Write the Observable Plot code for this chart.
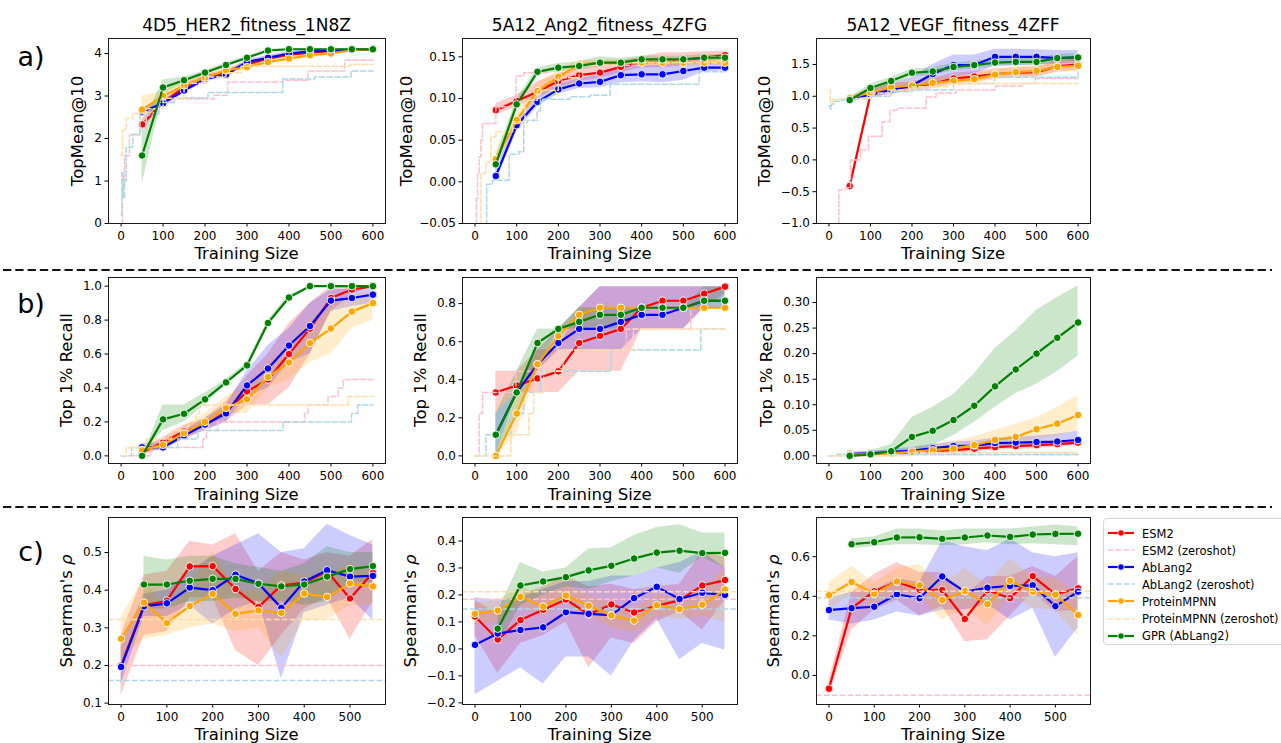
<!DOCTYPE html>
<html><head><meta charset="utf-8">
<script src="https://cdn.jsdelivr.net/npm/d3@7"></script>
<script src="https://cdn.jsdelivr.net/npm/@observablehq/plot@0.6"></script>
<style>
body{margin:0;background:#fff;font-family:"DejaVu Sans",sans-serif;color:#000;}
#root{position:relative;width:1281px;height:743px;overflow:hidden;background:#fff;}
.t{position:absolute;white-space:nowrap;transform:translate(-50%,-50%);line-height:1;}
.yl{position:absolute;white-space:nowrap;transform:translate(-50%,-50%) rotate(-90deg);line-height:1;font-size:16px;}
.leg{position:absolute;left:1103px;top:518px;width:190px;height:125px;border:1px solid #d6d6d6;border-radius:4px;background:#fff;}
.lr{position:absolute;left:0;height:16px;font-size:11.5px;white-space:nowrap;}
</style></head>
<body><div id="root"></div>
<script>
// ---------- data ----------
const MODELS = ["ESM2", "AbLang2", "ProteinMPNN", "GPR (AbLang2)"];
const ZS_LABELS = ["ESM2 (zeroshot)", "AbLang2 (zeroshot)", "ProteinMPNN (zeroshot)"];
const TITLES = ["4D5_HER2_fitness_1N8Z", "5A12_Ang2_fitness_4ZFG", "5A12_VEGF_fitness_4ZFF"];
const ROW_LABELS = ["a)", "b)", "c)"];
const Y_LABELS = ["TopMean@10", "Top 1% Recall", "Spearman's <i>ρ</i>"];
const X_LABEL = "Training Size";

const sizesAB = [50, 100, 150, 200, 250, 300, 350, 400, 450, 500, 550, 600];
const sizesC = [0, 50, 100, 150, 200, 250, 300, 350, 400, 450, 500, 550];
const xTicksAB = [0, 100, 200, 300, 400, 500, 600];
const xTicksC = [0, 100, 200, 300, 400, 500];

// a1: HER2 TopMean@10  (rows: ESM2, AbLang2, ProteinMPNN, GPR)
const A1_mean = [
 [2.33, 2.85, 3.2, 3.45, 3.55, 3.75, 3.88, 3.97, 4.02, 4.06, 4.08, 4.1],
 [2.63, 2.83, 3.13, 3.4, 3.5, 3.8, 3.9, 4.0, 4.05, 4.07, 4.08, 4.1],
 [2.68, 3.0, 3.25, 3.43, 3.6, 3.68, 3.8, 3.88, 3.96, 4.0, 4.08, 4.1],
 [1.6, 3.2, 3.37, 3.55, 3.73, 3.9, 4.07, 4.1, 4.1, 4.1, 4.1, 4.1]];
const A1_lo = [
 [2.2, 2.78, 3.12, 3.39, 3.49, 3.69, 3.83, 3.92, 3.98, 4.02, 4.05, 4.08],
 [2.55, 2.76, 3.06, 3.33, 3.45, 3.74, 3.85, 3.95, 4.01, 4.03, 4.05, 4.08],
 [2.42, 2.9, 3.17, 3.37, 3.53, 3.61, 3.74, 3.82, 3.91, 3.95, 4.04, 4.07],
 [0.92, 3.04, 3.3, 3.5, 3.68, 3.86, 4.04, 4.08, 4.08, 4.08, 4.08, 4.08]];
const A1_hi = [
 [2.46, 2.93, 3.28, 3.51, 3.61, 3.81, 3.93, 4.02, 4.06, 4.1, 4.11, 4.12],
 [2.7, 2.9, 3.2, 3.47, 3.56, 3.86, 3.95, 4.05, 4.09, 4.1, 4.11, 4.12],
 [3.0, 3.12, 3.33, 3.5, 3.67, 3.75, 3.86, 3.94, 4.01, 4.05, 4.12, 4.13],
 [2.3, 3.38, 3.44, 3.6, 3.78, 3.94, 4.1, 4.12, 4.12, 4.12, 4.12, 4.12]];
const A1_zsX = [
 [0, 3, 8, 20, 45, 60, 90, 120, 222, 254, 385, 445, 533, 600],
 [0, 2, 5, 8, 12, 28, 45, 90, 127, 207, 385, 461, 548, 600],
 [0, 3, 12, 28, 60, 100, 150, 200, 250, 286, 545, 600]];
const A1_zsY = [
 [0, 0.9, 1.6, 2.08, 2.25, 2.6, 2.88, 2.93, 3.02, 3.33, 3.37, 3.59, 3.84, 3.84],
 [0.2, 1.2, 0.6, 1.0, 1.8, 2.1, 2.55, 2.85, 2.96, 3.08, 3.4, 3.45, 3.59, 3.59],
 [1.6, 2.2, 2.47, 2.59, 2.7, 2.95, 3.3, 3.45, 3.55, 3.7, 3.74, 3.74]];
const A1_yTicks = [0, 1, 2, 3, 4];

// a2: Ang2 TopMean@10
const A2_mean = [
 [0.086, 0.097, 0.108, 0.121, 0.128, 0.131, 0.138, 0.143, 0.145, 0.146, 0.149, 0.152],
 [0.007, 0.068, 0.096, 0.111, 0.118, 0.12, 0.128, 0.129, 0.129, 0.133, 0.137, 0.137],
 [0.027, 0.074, 0.109, 0.126, 0.141, 0.143, 0.143, 0.143, 0.143, 0.143, 0.143, 0.143],
 [0.021, 0.093, 0.132, 0.137, 0.139, 0.143, 0.143, 0.147, 0.147, 0.147, 0.149, 0.149]];
const A2_lo = [
 [0.08, 0.09, 0.1, 0.113, 0.12, 0.124, 0.131, 0.137, 0.137, 0.139, 0.143, 0.147],
 [0.0, 0.06, 0.09, 0.105, 0.112, 0.113, 0.119, 0.12, 0.119, 0.122, 0.132, 0.133],
 [0.018, 0.064, 0.1, 0.118, 0.136, 0.14, 0.139, 0.139, 0.139, 0.139, 0.139, 0.139],
 [0.012, 0.085, 0.128, 0.132, 0.134, 0.138, 0.138, 0.143, 0.143, 0.143, 0.145, 0.145]];
const A2_hi = [
 [0.094, 0.104, 0.12, 0.13, 0.136, 0.139, 0.145, 0.15, 0.155, 0.155, 0.156, 0.157],
 [0.015, 0.076, 0.103, 0.117, 0.124, 0.128, 0.139, 0.139, 0.14, 0.143, 0.142, 0.141],
 [0.036, 0.083, 0.118, 0.134, 0.146, 0.146, 0.147, 0.147, 0.147, 0.147, 0.147, 0.147],
 [0.03, 0.1, 0.137, 0.142, 0.144, 0.15, 0.148, 0.151, 0.151, 0.151, 0.153, 0.153]];
const A2_zsX = [
 [0, 3, 6, 10, 14, 18, 50, 98, 117, 173, 250, 400, 550, 600],
 [26, 28, 42, 82, 105, 117, 125, 149, 157, 228, 276, 324, 538, 600],
 [8, 14, 26, 38, 50, 90, 120, 150, 200, 250, 350, 600]];
const A2_zsY = [
 [-0.07, -0.02, 0.01, 0.03, 0.05, 0.07, 0.09, 0.127, 0.131, 0.137, 0.14, 0.145, 0.15, 0.15],
 [-0.07, -0.003, 0.002, 0.033, 0.036, 0.071, 0.074, 0.085, 0.099, 0.102, 0.104, 0.117, 0.132, 0.132],
 [-0.07, 0.01, 0.024, 0.054, 0.06, 0.072, 0.098, 0.11, 0.125, 0.14, 0.143, 0.143]];
const A2_yTicks = [-0.05, 0, 0.05, 0.1, 0.15];

// a3: VEGF TopMean@10
const A3_mean = [
 [-0.41, 1.03, 1.12, 1.15, 1.2, 1.28, 1.31, 1.35, 1.37, 1.38, 1.47, 1.5],
 [0.95, 1.03, 1.1, 1.17, 1.35, 1.49, 1.49, 1.62, 1.62, 1.62, 1.6, 1.61],
 [0.97, 1.06, 1.14, 1.17, 1.21, 1.24, 1.27, 1.34, 1.38, 1.4, 1.46, 1.48],
 [0.94, 1.13, 1.24, 1.37, 1.39, 1.46, 1.49, 1.53, 1.54, 1.54, 1.6, 1.61]];
const A3_lo = [
 [-0.45, 0.97, 1.04, 1.07, 1.12, 1.2, 1.23, 1.27, 1.29, 1.3, 1.38, 1.41],
 [0.92, 0.98, 1.03, 1.1, 1.2, 1.3, 1.35, 1.47, 1.48, 1.5, 1.5, 1.52],
 [0.93, 1.0, 1.07, 1.1, 1.14, 1.16, 1.19, 1.26, 1.3, 1.32, 1.37, 1.39],
 [0.9, 1.07, 1.18, 1.31, 1.33, 1.4, 1.43, 1.47, 1.48, 1.48, 1.54, 1.55]];
const A3_hi = [
 [-0.37, 1.09, 1.2, 1.23, 1.28, 1.36, 1.39, 1.43, 1.45, 1.46, 1.56, 1.59],
 [0.98, 1.1, 1.2, 1.3, 1.5, 1.65, 1.65, 1.74, 1.74, 1.73, 1.72, 1.72],
 [1.01, 1.12, 1.21, 1.24, 1.28, 1.32, 1.35, 1.42, 1.46, 1.48, 1.55, 1.57],
 [0.98, 1.19, 1.3, 1.43, 1.45, 1.52, 1.55, 1.59, 1.6, 1.6, 1.66, 1.67]];
const A3_zsX = [
 [18, 24, 40, 52, 76, 95, 128, 147, 163, 234, 258, 306, 401, 465, 497, 600],
 [0, 3, 6, 12, 30, 60, 100, 150, 200, 300, 400, 600],
 [0, 3, 8, 30, 100, 150, 200, 290, 600]];
const A3_zsY = [
 [-1.2, -0.47, -0.44, 0.0, 0.16, 0.37, 0.6, 0.78, 0.81, 0.99, 1.05, 1.1, 1.16, 1.2, 1.28, 1.28],
 [0.85, 0.8, 0.88, 0.92, 0.94, 0.96, 1.0, 1.07, 1.1, 1.2, 1.3, 1.38],
 [1.1, 0.9, 0.95, 0.97, 1.05, 1.1, 1.15, 1.2, 1.2]];
const A3_yTicks = [-1, -0.5, 0, 0.5, 1, 1.5];

// b1: HER2 Top 1% Recall
const B1_mean = [
 [0.02, 0.08, 0.145, 0.18, 0.26, 0.38, 0.45, 0.6, 0.75, 0.93, 0.98, 1.0],
 [0.05, 0.05, 0.12, 0.185, 0.25, 0.415, 0.515, 0.65, 0.765, 0.915, 0.93, 0.95],
 [0.035, 0.065, 0.135, 0.2, 0.283, 0.333, 0.465, 0.55, 0.665, 0.75, 0.85, 0.9],
 [0.0, 0.215, 0.248, 0.333, 0.433, 0.533, 0.783, 0.933, 1.0, 1.0, 1.0, 1.0]];
const B1_lo = [
 [0.0, 0.05, 0.1, 0.15, 0.2, 0.3, 0.3, 0.4, 0.6, 0.85, 0.95, 1.0],
 [0.03, 0.03, 0.1, 0.15, 0.2, 0.35, 0.4, 0.55, 0.6, 0.85, 0.88, 0.9],
 [0.0, 0.04, 0.1, 0.15, 0.25, 0.25, 0.4, 0.45, 0.55, 0.6, 0.75, 0.8],
 [0.0, 0.15, 0.2, 0.3, 0.42, 0.52, 0.77, 0.92, 1.0, 1.0, 1.0, 1.0]];
const B1_hi = [
 [0.04, 0.11, 0.18, 0.22, 0.32, 0.47, 0.6, 0.78, 0.9, 1.0, 1.0, 1.0],
 [0.07, 0.08, 0.15, 0.22, 0.3, 0.5, 0.65, 0.75, 0.9, 0.98, 0.98, 1.0],
 [0.06, 0.1, 0.17, 0.25, 0.35, 0.4, 0.55, 0.65, 0.8, 0.9, 0.95, 0.97],
 [0.0, 0.3, 0.3, 0.37, 0.45, 0.55, 0.8, 0.95, 1.0, 1.0, 1.0, 1.0]];
const B1_zsX = [
 [0, 70, 195, 203, 230, 437, 445, 493, 517, 529, 600],
 [0, 25, 135, 183, 386, 549, 564, 600],
 [0, 12, 60, 120, 160, 179, 187, 541, 600]];
const B1_zsY = [
 [0, 0.05, 0.1, 0.15, 0.2, 0.25, 0.3, 0.35, 0.4, 0.45, 0.45],
 [0, 0.05, 0.1, 0.15, 0.2, 0.25, 0.3, 0.3],
 [0, 0.05, 0.1, 0.15, 0.2, 0.25, 0.3, 0.35, 0.35]];
const B1_yTicks = [0, 0.2, 0.4, 0.6, 0.8, 1.0];

// b2: Ang2 Top 1% Recall
const B2_mean = [
 [0.333, 0.37, 0.407, 0.444, 0.593, 0.63, 0.667, 0.778, 0.815, 0.815, 0.852, 0.889],
 [0.111, 0.333, 0.481, 0.593, 0.667, 0.667, 0.704, 0.741, 0.741, 0.778, 0.815, 0.815],
 [0.0, 0.222, 0.481, 0.63, 0.741, 0.778, 0.778, 0.778, 0.778, 0.778, 0.778, 0.778],
 [0.111, 0.333, 0.593, 0.667, 0.704, 0.741, 0.741, 0.778, 0.778, 0.778, 0.815, 0.815]];
const B2_lo = [
 [0.222, 0.333, 0.333, 0.333, 0.444, 0.444, 0.444, 0.667, 0.667, 0.667, 0.778, 0.852],
 [0.0, 0.333, 0.444, 0.556, 0.556, 0.556, 0.556, 0.667, 0.667, 0.667, 0.778, 0.778],
 [0.0, 0.111, 0.444, 0.556, 0.667, 0.778, 0.778, 0.778, 0.778, 0.778, 0.778, 0.778],
 [0.0, 0.222, 0.444, 0.667, 0.667, 0.667, 0.667, 0.778, 0.778, 0.778, 0.778, 0.778]];
const B2_hi = [
 [0.444, 0.444, 0.556, 0.556, 0.778, 0.889, 0.889, 0.889, 0.889, 0.889, 0.889, 0.889],
 [0.222, 0.333, 0.556, 0.667, 0.778, 0.889, 0.889, 0.889, 0.889, 0.889, 0.889, 0.889],
 [0.0, 0.333, 0.556, 0.667, 0.778, 0.778, 0.778, 0.778, 0.778, 0.778, 0.778, 0.778],
 [0.222, 0.444, 0.667, 0.667, 0.778, 0.778, 0.778, 0.778, 0.778, 0.778, 0.889, 0.889]];
const B2_zsX = [
 [0, 10, 18, 98, 212, 363, 518, 600],
 [0, 26, 86, 117, 157, 326, 542, 600],
 [0, 86, 129, 141, 165, 212, 380, 600]];
const B2_zsY = [
 [0, 0.222, 0.333, 0.444, 0.556, 0.667, 0.778, 0.778],
 [0, 0.111, 0.222, 0.333, 0.444, 0.556, 0.667, 0.667],
 [0, 0.111, 0.222, 0.333, 0.444, 0.556, 0.667, 0.667]];
const B2_yTicks = [0, 0.2, 0.4, 0.6, 0.8];

// b3: VEGF Top 1% Recall
const B3_mean = [
 [0.001, 0.003, 0.005, 0.007, 0.009, 0.011, 0.014, 0.017, 0.019, 0.021, 0.023, 0.026],
 [0.004, 0.005, 0.008, 0.01, 0.015, 0.019, 0.02, 0.025, 0.026, 0.027, 0.028, 0.031],
 [0.002, 0.003, 0.005, 0.008, 0.011, 0.014, 0.021, 0.031, 0.037, 0.052, 0.063, 0.08],
 [0.0, 0.003, 0.009, 0.037, 0.049, 0.07, 0.098, 0.136, 0.169, 0.2, 0.231, 0.261]];
const B3_lo = [
 [0.0, 0.0, 0.001, 0.002, 0.004, 0.006, 0.008, 0.011, 0.013, 0.015, 0.017, 0.02],
 [0.001, 0.001, 0.003, 0.004, 0.008, 0.011, 0.012, 0.016, 0.017, 0.018, 0.019, 0.021],
 [0.0, 0.0, 0.001, 0.002, 0.004, 0.006, 0.01, 0.015, 0.02, 0.03, 0.038, 0.048],
 [0.0, 0.0, 0.003, 0.0, 0.02, 0.04, 0.065, 0.095, 0.122, 0.14, 0.165, 0.195]];
const B3_hi = [
 [0.003, 0.006, 0.009, 0.012, 0.014, 0.016, 0.02, 0.023, 0.025, 0.027, 0.029, 0.032],
 [0.007, 0.009, 0.013, 0.017, 0.022, 0.027, 0.029, 0.035, 0.037, 0.039, 0.042, 0.048],
 [0.004, 0.006, 0.01, 0.015, 0.022, 0.028, 0.038, 0.05, 0.062, 0.075, 0.095, 0.118],
 [0.001, 0.01, 0.022, 0.075, 0.095, 0.12, 0.16, 0.21, 0.245, 0.285, 0.31, 0.333]];
const B3_zsX = [[0, 150, 600], [0, 20, 600], [0, 195, 600]];
const B3_zsY = [[0, 0.002, 0.002], [0, 0.003, 0.003], [0, 0.0065, 0.0065]];
const B3_yTicks = [0, 0.05, 0.1, 0.15, 0.2, 0.25, 0.3];

// c1: HER2 Spearman
const C1_mean = [
 [0.2, 0.36, 0.372, 0.463, 0.464, 0.403, 0.355, 0.413, 0.42, 0.45, 0.378, 0.446],
 [0.196, 0.357, 0.365, 0.407, 0.4, 0.441, 0.418, 0.353, 0.423, 0.453, 0.436, 0.438],
 [0.271, 0.367, 0.313, 0.358, 0.39, 0.337, 0.346, 0.34, 0.391, 0.382, 0.418, 0.41],
 [null, 0.415, 0.415, 0.425, 0.43, 0.43, 0.417, 0.41, 0.415, 0.436, 0.456, 0.464]];
const C1_lo = [
 [0.12, 0.28, 0.29, 0.38, 0.38, 0.24, 0.2, 0.28, 0.35, 0.38, 0.27, 0.37],
 [0.15, 0.33, 0.33, 0.36, 0.31, 0.35, 0.37, 0.165, 0.34, 0.36, 0.38, 0.32],
 [0.22, 0.27, 0.28, 0.3, 0.31, 0.29, 0.3, 0.22, 0.32, 0.32, 0.36, 0.36],
 [null, 0.35, 0.35, 0.37, 0.37, 0.38, 0.37, 0.37, 0.36, 0.37, 0.42, 0.42]];
const C1_hi = [
 [0.28, 0.44, 0.45, 0.53, 0.52, 0.55, 0.45, 0.5, 0.48, 0.5, 0.49, 0.535],
 [0.25, 0.39, 0.4, 0.45, 0.49, 0.52, 0.55, 0.5, 0.51, 0.575, 0.545, 0.52],
 [0.33, 0.43, 0.35, 0.42, 0.5, 0.4, 0.4, 0.45, 0.44, 0.44, 0.47, 0.45],
 [null, 0.49, 0.48, 0.49, 0.49, 0.47, 0.46, 0.45, 0.47, 0.515, 0.5, 0.5]];
const C1_zs = [0.2, 0.16, 0.322];
const C1_yTicks = [0.1, 0.2, 0.3, 0.4, 0.5];

// c2: Ang2 Spearman
const C2_mean = [
 [0.12, 0.035, 0.107, 0.145, 0.183, 0.128, 0.165, 0.135, 0.16, 0.18, 0.235, 0.255],
 [0.015, 0.057, 0.07, 0.08, 0.136, 0.13, 0.125, 0.188, 0.23, 0.185, 0.208, 0.2],
 [0.13, 0.142, 0.193, 0.157, 0.198, 0.16, 0.124, 0.105, 0.162, 0.147, 0.164, 0.22],
 [null, 0.075, 0.235, 0.25, 0.266, 0.291, 0.308, 0.335, 0.357, 0.364, 0.355, 0.356]];
const C2_lo = [
 [0.05, -0.09, 0.02, 0.05, 0.1, -0.07, 0.04, 0.02, 0.1, 0.14, 0.07, 0.18],
 [-0.17, -0.12, -0.07, -0.13, -0.03, -0.03, -0.1, 0.03, 0.11, -0.04, 0.02, -0.005],
 [0.09, 0.1, 0.16, 0.12, 0.17, 0.12, 0.08, 0.06, 0.12, 0.11, 0.12, 0.1],
 [null, 0.01, 0.16, 0.2, 0.23, 0.22, 0.25, 0.27, 0.3, 0.28, 0.34, 0.3]];
const C2_hi = [
 [0.18, 0.13, 0.2, 0.23, 0.27, 0.23, 0.24, 0.22, 0.23, 0.24, 0.36, 0.34],
 [0.19, 0.18, 0.19, 0.22, 0.25, 0.25, 0.27, 0.27, 0.3, 0.32, 0.36, 0.3],
 [0.17, 0.18, 0.23, 0.2, 0.24, 0.2, 0.17, 0.15, 0.2, 0.19, 0.21, 0.3],
 [null, 0.14, 0.32, 0.285, 0.3, 0.37, 0.375, 0.42, 0.45, 0.46, 0.43, 0.43]];
const C2_zs = [0.184, 0.148, 0.212];
const C2_yTicks = [-0.2, -0.1, 0, 0.1, 0.2, 0.3, 0.4];

// c3: VEGF Spearman
const C3_mean = [
 [-0.067, 0.34, 0.425, 0.472, 0.433, 0.432, 0.285, 0.43, 0.39, 0.502, 0.41, 0.44],
 [0.33, 0.34, 0.347, 0.41, 0.39, 0.5, 0.423, 0.443, 0.452, 0.455, 0.35, 0.423],
 [0.405, 0.472, 0.413, 0.475, 0.456, 0.38, 0.427, 0.36, 0.478, 0.423, 0.408, 0.305],
 [null, 0.663, 0.673, 0.697, 0.698, 0.69, 0.697, 0.707, 0.7, 0.712, 0.715, 0.716]];
const C3_lo = [
 [-0.1, 0.23, 0.33, 0.38, 0.3, 0.35, 0.17, 0.18, 0.3, 0.42, 0.32, 0.33],
 [0.28, 0.26, 0.28, 0.32, 0.3, 0.33, 0.33, 0.36, 0.28, 0.34, 0.09, 0.24],
 [0.33, 0.41, 0.35, 0.42, 0.4, 0.28, 0.35, 0.25, 0.41, 0.34, 0.33, 0.2],
 [null, 0.64, 0.65, 0.66, 0.66, 0.655, 0.66, 0.67, 0.66, 0.665, 0.66, 0.655]];
const C3_hi = [
 [-0.03, 0.42, 0.51, 0.57, 0.52, 0.52, 0.4, 0.5, 0.5, 0.55, 0.5, 0.6],
 [0.39, 0.42, 0.43, 0.49, 0.47, 0.68, 0.65, 0.63, 0.69, 0.62, 0.6, 0.62],
 [0.47, 0.55, 0.47, 0.54, 0.56, 0.46, 0.54, 0.46, 0.59, 0.5, 0.49, 0.41],
 [null, 0.69, 0.7, 0.74, 0.74, 0.73, 0.74, 0.74, 0.74, 0.75, 0.76, 0.75]];
const C3_zs = [-0.1, 0.393, 0.425];
const C3_yTicks = [0, 0.2, 0.4, 0.6];

// ---------- styling / layout ----------
const COLORS = ["red", "blue", "orange", "green"];
const ZS_COLORS = ["pink", "lightblue", "navajowhite"];
const COL_LEFT = [108, 462, 816], COL_W = [277, 275, 274];
const ROW_TOP = [38, 277, 517], ROW_H = [185, 186, 187];
const YLAB_X = [[78, 407, 765], [67, 421, 767], [67, 411, 774]];
const XLAB_Y = [254, 495, 735];
const ROW_LABEL_Y = [56, 303, 551];
const SEP_Y = [270, 507];

const PANELS = [
 {r:0, c:0, xs:sizesAB, mean:A1_mean, lo:A1_lo, hi:A1_hi, zsX:A1_zsX, zsY:A1_zsY, xd:[-30,630], yd:[0,4.353], yt:A1_yTicks, fmt:"d", xt:xTicksAB},
 {r:0, c:1, xs:sizesAB, mean:A2_mean, lo:A2_lo, hi:A2_hi, zsX:A2_zsX, zsY:A2_zsY, xd:[-30,630], yd:[-0.05,0.172], yt:A2_yTicks, fmt:".2f", xt:xTicksAB},
 {r:0, c:2, xs:sizesAB, mean:A3_mean, lo:A3_lo, hi:A3_hi, zsX:A3_zsX, zsY:A3_zsY, xd:[-30,630], yd:[-1.0,1.908], yt:A3_yTicks, fmt:".1f", xt:xTicksAB},
 {r:1, c:0, xs:sizesAB, mean:B1_mean, lo:B1_lo, hi:B1_hi, zsX:B1_zsX, zsY:B1_zsY, xd:[-30,630], yd:[-0.045,1.051], yt:B1_yTicks, fmt:".1f", xt:xTicksAB},
 {r:1, c:1, xs:sizesAB, mean:B2_mean, lo:B2_lo, hi:B2_hi, zsX:B2_zsX, zsY:B2_zsY, xd:[-30,630], yd:[-0.04,0.937], yt:B2_yTicks, fmt:".1f", xt:xTicksAB},
 {r:1, c:2, xs:sizesAB, mean:B3_mean, lo:B3_lo, hi:B3_hi, zsX:B3_zsX, zsY:B3_zsY, xd:[-30,630], yd:[-0.015,0.349], yt:B3_yTicks, fmt:".2f", xt:xTicksAB},
 {r:2, c:0, xs:sizesC, mean:C1_mean, lo:C1_lo, hi:C1_hi, zsH:C1_zs, xd:[-27.5,577.5], yd:[0.0964,0.593], yt:C1_yTicks, fmt:".1f", xt:xTicksC},
 {r:2, c:1, xs:sizesC, mean:C2_mean, lo:C2_lo, hi:C2_hi, zsH:C2_zs, xd:[-27.5,577.5], yd:[-0.206,0.487], yt:C2_yTicks, fmt:".1f", xt:xTicksC},
 {r:2, c:2, xs:sizesC, mean:C3_mean, lo:C3_lo, hi:C3_hi, zsH:C3_zs, xd:[-27.5,577.5], yd:[-0.147,0.798], yt:C3_yTicks, fmt:".1f", xt:xTicksC}
];

const root = document.getElementById("root");
function addText(html, x, y, size, cls) {
  const d = document.createElement("div");
  d.className = cls || "t";
  d.style.left = x + "px"; d.style.top = y + "px";
  if (size) d.style.fontSize = size + "px";
  d.innerHTML = html;
  root.appendChild(d);
  return d;
}

const mL = 60, mR = 6, mT = 6, mB = 26;
const DASH = "5.5,2.4";

for (const p of PANELS) {
  const W = COL_W[p.c], H = ROW_H[p.r];
  const series = p.mean.map((m, k) => p.xs.map((x, i) => ({x, y: m[i], lo: p.lo[k][i], hi: p.hi[k][i]})));
  const marks = [];
  for (let k = 0; k < 4; k++) {
    marks.push(Plot.areaY(series[k], {x: "x", y1: "lo", y2: "hi", fill: COLORS[k], fillOpacity: 0.2, clip: true}));
  }
  for (let k = 0; k < 4; k++) {
    marks.push(Plot.line(series[k], {x: "x", y: "y", stroke: COLORS[k], strokeWidth: 2.2, clip: true}));
    marks.push(Plot.dot(series[k], {x: "x", y: "y", r: 3.8, fill: COLORS[k], stroke: "white", strokeWidth: 0.9}));
    if (k < 3) {
      if (p.zsH) {
        marks.push(Plot.ruleY([p.zsH[k]], {stroke: ZS_COLORS[k], strokeWidth: 1.5, strokeDasharray: DASH}));
      } else {
        const zs = p.zsX[k].map((x, i) => ({x, y: p.zsY[k][i]}));
        marks.push(Plot.line(zs, {x: "x", y: "y", curve: "step-after", stroke: ZS_COLORS[k], strokeWidth: 1.5, strokeDasharray: DASH, clip: true}));
      }
    }
  }
  marks.push(Plot.frame({stroke: "#1a1a1a", strokeWidth: 1}));
  const svg = Plot.plot({
    width: W + mL + mR, height: H + mT + mB,
    marginLeft: mL, marginRight: mR, marginTop: mT, marginBottom: mB,
    style: {fontFamily: "DejaVu Sans", fontSize: "12px", color: "#000", background: "transparent", overflow: "visible"},
    x: {domain: p.xd, ticks: p.xt, tickFormat: d3.format("d"), tickSize: 3.5, tickPadding: 4, label: null},
    y: {domain: p.yd, ticks: p.yt, tickFormat: d3.format(p.fmt), tickSize: 3.5, tickPadding: 3, label: null},
    marks
  });
  svg.style.position = "absolute";
  svg.style.left = (COL_LEFT[p.c] - mL) + "px";
  svg.style.top = (ROW_TOP[p.r] - mT) + "px";
  root.appendChild(svg);

  const cx = COL_LEFT[p.c] + W / 2, cy = ROW_TOP[p.r] + H / 2;
  if (p.r === 0) addText(TITLES[p.c], cx, 25, 17);
  addText(X_LABEL, cx, XLAB_Y[p.r], 16.5);
  addText(Y_LABELS[p.r], YLAB_X[p.r][p.c], cy, 16.5, "yl");
}

// row labels
ROW_LABELS.forEach((t, i) => addText(t, 31, ROW_LABEL_Y[i], 27));

// separators
const NS = "http://www.w3.org/2000/svg";
for (const y of SEP_Y) {
  const s = document.createElementNS(NS, "svg");
  s.setAttribute("width", 1281); s.setAttribute("height", 6);
  s.style.position = "absolute"; s.style.left = "0px"; s.style.top = (y - 3) + "px";
  const l = document.createElementNS(NS, "line");
  l.setAttribute("x1", 3); l.setAttribute("x2", 1272); l.setAttribute("y1", 3); l.setAttribute("y2", 3);
  l.setAttribute("stroke", "#111"); l.setAttribute("stroke-width", 2.2); l.setAttribute("stroke-dasharray", "8.3,4");
  s.appendChild(l); root.appendChild(s);
}

// legend
const leg = document.createElement("div");
leg.className = "leg";
root.appendChild(leg);
const entries = [];
for (let k = 0; k < 4; k++) {
  entries.push({label: MODELS[k], color: COLORS[k], zs: false});
  if (k < 3) entries.push({label: ZS_LABELS[k], color: ZS_COLORS[k], zs: true});
}
entries.forEach((e, i) => {
  const row = document.createElement("div");
  row.className = "lr";
  row.style.top = (6 + i * 17.1) + "px";
  const sw = e.zs
    ? `<line x1="4" x2="30" y1="8" y2="8" stroke="${e.color}" stroke-width="1.5" stroke-dasharray="${DASH}"/>`
    : `<line x1="4" x2="30" y1="8" y2="8" stroke="${e.color}" stroke-width="2.2"/><circle cx="17" cy="8" r="3.2" fill="${e.color}" stroke="white" stroke-width="0.8"/>`;
  row.innerHTML = `<svg width="34" height="16" style="position:absolute;left:0;top:0">${sw}</svg><span style="position:absolute;left:38px;top:1.5px">${e.label}</span>`;
  leg.appendChild(row);
});
</script>
</body></html>
